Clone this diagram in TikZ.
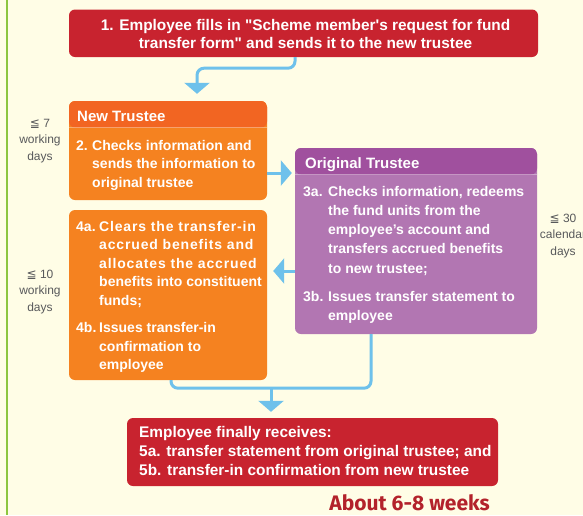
\documentclass[tikz,border=0pt]{standalone}
\usepackage{fontspec}
\setmainfont{Liberation Sans}
\newfontfamily\symfont{DejaVu Sans}
\newfontfamily\weekfont{Fira Sans}
\usetikzlibrary{arrows.meta}
\definecolor{paper}{HTML}{FFFDE6}
\definecolor{leaf}{HTML}{8DC63F}
\definecolor{boxred}{HTML}{C8232F}
\definecolor{newhead}{HTML}{F26522}
\definecolor{newbody}{HTML}{F58220}
\definecolor{orighead}{HTML}{A0509E}
\definecolor{origbody}{HTML}{B276B2}
\definecolor{flowblue}{HTML}{6EC1EB}
\definecolor{daygray}{HTML}{58595B}
\definecolor{weekred}{HTML}{B3222B}
\newcommand\stepbox[2]{\begin{tabular}[t]{@{}p{#1}@{}l@{}}#2\end{tabular}}
\newcommand\spread[1]{{\addfontfeature{LetterSpace=6}#1}}
\tikzset{>/.tip={Triangle[width=25pt,length=11pt]},
  panel/.style={rounded corners=6pt, inner sep=0pt},
  headed/.style={path picture={
    \fill[#1] (path picture bounding box.north west) rectangle ([yshift=-26.5pt]path picture bounding box.north east);
    \draw[white, opacity=.35, line width=.8pt] ([yshift=-26.5pt]path picture bounding box.north west) -- ([yshift=-26.5pt]path picture bounding box.north east);}},
  flow/.style={draw=flowblue, line width=3pt, rounded corners=7pt},
  lead/.style={text=white, font=\bfseries\fontsize{14}{18.5}\selectfont, inner sep=0pt, anchor=base west},
  days/.style={text=daygray, font=\fontsize{12}{16.6}\selectfont, inner sep=0pt, anchor=base}}

\begin{document}
\begin{tikzpicture}[x=1pt, y=-1pt]
\fill[paper] (0,0) rectangle (583,515);
\clip (0,0) rectangle (583,515);
\draw[leaf, line width=2.5pt] (7,0) -- (7,515);

\node[panel, fill=boxred, minimum width=469pt, minimum height=47.5pt] (req) at (303.5,33.25) {};
\node[panel, fill=newbody, headed=newhead, minimum width=198pt, minimum height=99pt] (newt) at (168,150.5) {};
\node[panel, fill=origbody, headed=orighead, minimum width=242pt, minimum height=186pt] (orig) at (416,241) {};
\node[panel, fill=newbody, minimum width=198pt, minimum height=170pt] (clear) at (168,295) {};
\node[panel, fill=boxred, minimum width=371pt, minimum height=68pt] (final) at (312.5,452) {};

\node[lead, anchor=base, font=\bfseries\fontsize{15.4}{18}\selectfont] (reqtext) at (305.5,30.5) {\begin{tabular}[t]{@{}c@{}}1. Employee fills in \textquotedbl Scheme member\textquotesingle s request for fund\\transfer form\textquotedbl{} and sends it to the new trustee\end{tabular}};
\node[lead, font=\bfseries\fontsize{15}{18}\selectfont] (newname) at (77,121) {New Trustee};
\node[lead] (step2) at (76,150) {\stepbox{16pt}{2. & Checks information and\\ & sends the information to\\ & original trustee}};
\node[lead, font=\bfseries\fontsize{15}{18}\selectfont] (origname) at (305,168) {Original Trustee};
\node[lead, font=\bfseries\fontsize{14}{19.3}\selectfont] (step3) at (303,196) {\stepbox{25pt}{3a. & Checks information, redeems\\ & the fund units from the\\ & employee's account and\\ & transfers accrued benefits\\ & to new trustee;\\[8.5pt] 3b. & Issues transfer statement to\\ & employee}};
\node[lead, font=\bfseries\fontsize{14}{18.6}\selectfont] (step4) at (76,231) {\stepbox{23pt}{4a. & \spread{Clears the transfer-in}\\ & \spread{accrued benefits and}\\ & \spread{allocates the accrued}\\ & benefits into constituent\\ & funds;\\[8.5pt] 4b. & Issues transfer-in\\ & confirmation to\\ & employee}};
\node[lead, font=\bfseries\fontsize{15.4}{19}\selectfont] (step5) at (139,437) {\begin{tabular}[t]{@{}l@{}}Employee finally receives:\\5a. transfer statement from original trustee; and\\5b. transfer-in confirmation from new trustee\end{tabular}};

\foreach \n/\x/\y/\w in {7/40/127/working, 10/40/278/working, 30/563/222/calendar}
  \node[days] (d\n) at (\x,\y) {\begin{tabular}[t]{@{}c@{}}{\symfont ≦} \n\\\w\\days\end{tabular}};

\node[inner sep=0pt, anchor=base east, text=weekred, font=\weekfont\bfseries\fontsize{21}{22}\selectfont] (weeks) at (490,510) {About 6-8 weeks};

\draw[flow, ->, shorten >=7pt] (req.south -| 295,0) -- ++(0,11) -| (197,0 |- newt.north);
\draw[flow, ->, shorten >=3pt] (newt.east |- 0,173) -- (orig.west |- 0,173);
\draw[flow, ->, shorten >=6pt] (orig.west |- 0,271) -- (clear.east |- 0,271);
\draw[flow] (clear.south -| 171,0) -- ++(0,8) -| (orig.south -| 371,0);
\coordinate (join) at (271,388);
\draw[flow, ->, shorten >=6pt] (join) -- (join |- final.north);
\end{tikzpicture}
\end{document}
